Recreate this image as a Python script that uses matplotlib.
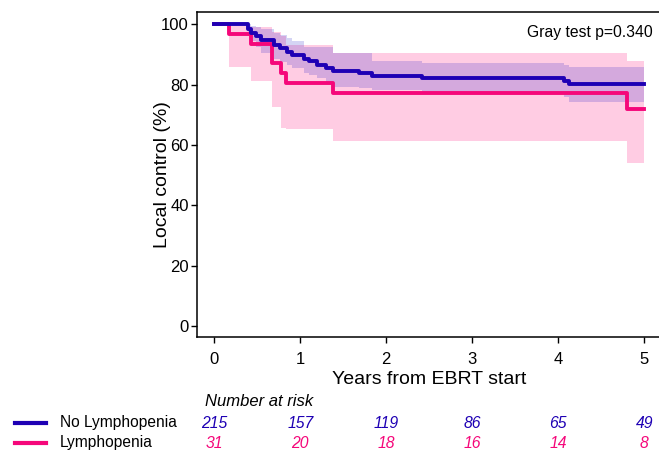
import matplotlib
matplotlib.use("Agg")
import matplotlib.pyplot as plt
import matplotlib.transforms as mtransforms
from matplotlib.lines import Line2D

plt.rcParams["font.family"] = ["Liberation Sans", "DejaVu Sans"]

# No Lymphopenia: cumulative local control with confidence band
t_no = [0, 0.39, 0.43, 0.48, 0.54, 0.70, 0.76, 0.84, 0.90, 1.04, 1.10, 1.20, 1.30,
        1.38, 1.68, 1.83, 2.41, 4.07, 4.12, 5.0]
s_no = [100, 98.5, 97.2, 96, 94.8, 93, 92, 91, 89.8, 88.6, 87.7, 86.6, 85.5,
        84.6, 83.9, 82.9, 82.2, 81.2, 80.2, 80.2]
lo_no = [100, 96, 94.5, 92.5, 90.5, 88.5, 87.5, 86.5, 85.5, 84, 83.3, 82.3, 81,
         79.3, 79, 78.4, 77.7, 76, 74.2, 74.2]
hi_no = [100, 100, 99.5, 99, 98.5, 97, 96.5, 95.5, 94.5, 92.5, 92.4, 92.4, 92.4,
         90.5, 90.5, 88, 87.1, 86.5, 86, 86]

# Lymphopenia
t_ly = [0, 0.17, 0.43, 0.67, 0.78, 0.83, 1.38, 4.80, 5.0]
s_ly = [100, 96.8, 93.5, 87.1, 83.9, 80.6, 77.2, 72.0, 72.0]
lo_ly = [100, 86, 81.3, 72.7, 65.6, 65.2, 61.4, 54, 54]
hi_ly = [100, 99.3, 99, 97.5, 96, 93, 90.4, 87.7, 87.7]

risk_times = [0, 1, 2, 3, 4, 5]
risk_no = [215, 157, 119, 86, 65, 49]
risk_ly = [31, 20, 18, 16, 14, 8]

blue = "#1E00B4"
red = "#F5077A"

fig = plt.figure(figsize=(6.59, 4.53), dpi=100)
ax = fig.add_axes([197 / 659, 1 - 337 / 453, 462 / 659, 325 / 453])

ax.fill_between(t_ly, lo_ly, hi_ly, step="post", color="#FFCCE3", lw=0)
ax.fill_between(t_no, lo_no, hi_no, step="post", color="#0000C2", alpha=0.17, lw=0)
ax.step(t_ly, s_ly, where="post", color=red, lw=2.8)
ax.step(t_no, s_no, where="post", color=blue, lw=2.8)

ax.set_xlim(-0.201, 5.171)
ax.set_ylim(-3.65, 104.1)
ax.set_xticks(risk_times)
ax.set_yticks([0, 20, 40, 60, 80, 100])
ax.tick_params(labelsize=12, length=4, width=1)
ax.tick_params(axis="x", pad=7)
ax.tick_params(axis="y", pad=2)
ax.spines["right"].set_visible(False)
for sp in ["left", "bottom", "top"]:
    ax.spines[sp].set_linewidth(1.1)

ax.set_xlabel("Years from EBRT start", fontsize=14)
ax.xaxis.set_label_coords(0.502, -0.105)
ax.set_ylabel("Local control (%)", fontsize=14, va="center")
ax.yaxis.set_label_coords(-0.074, 0.5)

ax.text(5.10, 97.2, "Gray test p=0.340", ha="right", va="center", fontsize=11.3)

# number at risk table
trans = mtransforms.blended_transform_factory(ax.transData, fig.transFigure)
ax.text(-0.11, 1 - 401 / 453, "Number at risk", transform=trans, ha="left",
        va="center", fontsize=12, style="italic", clip_on=False)
for t, n1, n2 in zip(risk_times, risk_no, risk_ly):
    ax.text(t, 1 - 423 / 453, str(n1), transform=trans, ha="center", va="center",
            fontsize=11.3, style="italic", color=blue, clip_on=False)
    ax.text(t, 1 - 443 / 453, str(n2), transform=trans, ha="center", va="center",
            fontsize=11.3, style="italic", color=red, clip_on=False)

for y, c, lab in [(423, blue, "No Lymphopenia"), (443, red, "Lymphopenia")]:
    yf = 1 - y / 453
    fig.add_artist(Line2D([15 / 659, 46 / 659], [yf, yf], color=c, lw=3,
                          transform=fig.transFigure))
    fig.text(60 / 659, yf, lab, ha="left", va="center", fontsize=11.2)

fig.savefig("out.png", dpi=100)
